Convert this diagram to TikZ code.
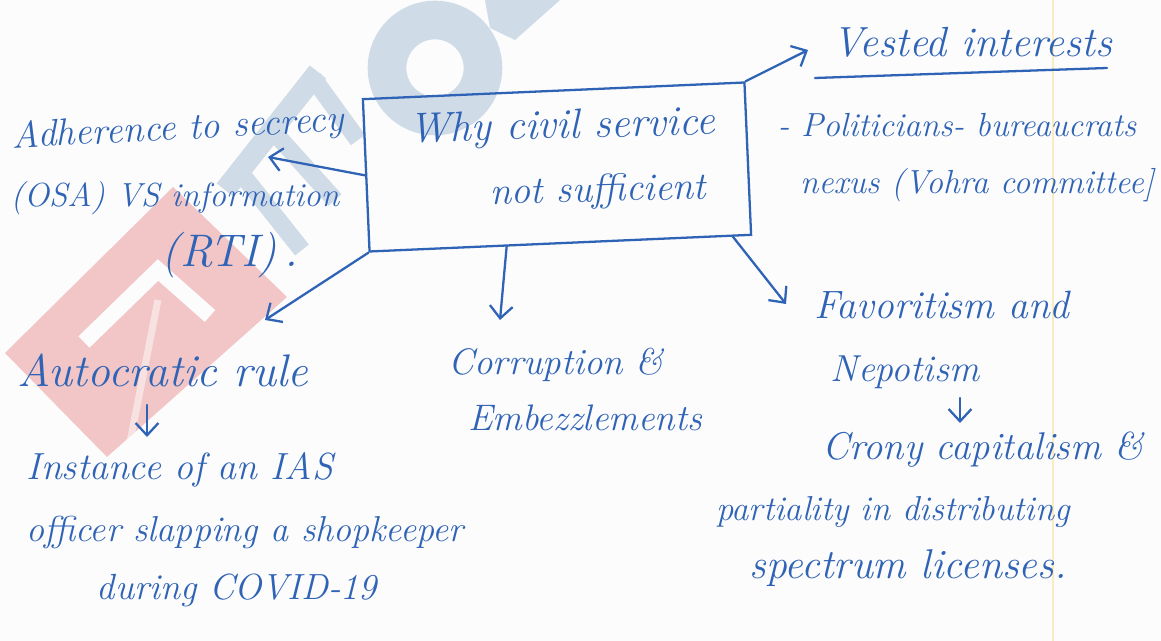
\documentclass[tikz,border=0pt]{standalone}
\usetikzlibrary{arrows.meta,calc}
\definecolor{ink}{HTML}{2F63B6}
\definecolor{paper}{HTML}{FCFCFC}
\definecolor{wmred}{HTML}{F2C6C6}
\definecolor{wmblue}{HTML}{D0DBE8}
\definecolor{marginline}{HTML}{FAEBC0}
\begin{document}
\begin{tikzpicture}[x=0.02cm,y=-0.02cm,
  hand/.style={text=ink, font=\fontsize{#1}{#1}\selectfont\itshape, inner sep=0pt, anchor=center},
  hand/.default=21,
  link/.style={draw=ink, line width=1.3pt, line cap=round, line join=round,
    -{Straight Barb[length=7pt,width=13pt,line width=1.3pt]}},
  pen/.style={draw=ink, line width=1.3pt, line cap=round, line join=round},
]
\useasboundingbox (0,0) rectangle (1161,641);
\fill[paper] (0,0) rectangle (1161,641);

% faint logo printed behind the notes
\fill[wmred] (173,187) -- (287,297) -- (107,457) -- (5,353) -- cycle;
\draw[paper, line width=9pt, line join=miter] (84,342) -- (158,270) -- (210,316);
\draw[paper, opacity=0.5, line width=4pt] (158,300) -- (128,452);
\draw[wmblue, line width=12pt, line cap=butt] (318,72) -- (225,190);
\draw[wmblue, line width=10pt, line cap=butt] (313,78) -- (358,140);
\draw[wmblue, line width=10pt, line cap=butt] (272,130) -- (335,200);
\draw[wmblue, line width=10pt, line cap=butt] (240,172) -- (302,250);
\draw[wmblue, line width=22pt] (435,68) circle[radius=48];
\fill[wmblue] (485,0) -- (560,0) -- (515,40) -- (490,28) -- cycle;

% margin of the ruled sheet
\draw[marginline, line width=1pt] (1053,0) -- (1053,641);

% central question
\node[draw=ink, line width=1.3pt, rotate=2.5, minimum width=7.64cm, minimum height=3.05cm,
  inner sep=0pt] (box) at (557,167) {};
\node[hand=24, rotate=1.5] (q1) at (562,128) {Why civil service};
\node[hand=22, rotate=1.5] (q2) at (598,192) {not sufficient};

% left: secrecy
\node[hand=21.5, rotate=3] (sec1) at (178,130) {Adherence to secrecy};
\node[hand=19] (sec2) at (175,198) {(OSA) VS information};
\node[hand=26] (sec3) at (230,255) {(RTI)\,.};
\coordinate (tipL) at (268,157);
\draw[link] (box.west) -- (tipL);

% top right: vested interests
\node[hand=24] (vest) at (972,42) {Vested interests};
\coordinate (ulA) at (815,78);
\coordinate (ulB) at (1107,68);
\draw[pen] (ulA) -- (ulB);
\node[hand=19] (pol1) at (957,125) {- Politicians- bureaucrats};
\node[hand=19] (pol2) at (977,185) {nexus (Vohra committee]};
\coordinate (tipV) at (808,50);
\draw[link] (box.north east) -- (tipV);

% bottom left: autocratic rule
\node[hand=26] (auto) at (163,370) {Autocratic rule};
\node[hand=21.5] (inst1) at (180,470) {Instance of an IAS};
\node[hand=20.5] (inst2) at (245,532) {officer slapping a shopkeeper};
\node[hand=20.7] (inst3) at (237,590) {during COVID-19};
\coordinate (tipA) at (265,320);
\draw[link] (box.south west) -- (tipA);
\coordinate (a1) at (147,405);
\coordinate (a2) at (147,437);
\draw[link] (a1) -- (a2);

% bottom middle: corruption
\node[hand=21] (corr1) at (556,365) {Corruption \&};
\node[hand=21] (corr2) at (585,418) {Embezzlements};
\coordinate (c0) at ($(box.south west)!0.36!(box.south east)$);
\coordinate (tipC) at (500,320);
\draw[link] (c0) -- (tipC);

% bottom right: favoritism
\node[hand=22.5] (fav1) at (942,305) {Favoritism and};
\node[hand=21.4] (fav2) at (905,372) {Nepotism};
\node[hand=22] (crony1) at (983,450) {Crony capitalism \&};
\node[hand=19.7] (crony2) at (893,512) {partiality in distributing};
\node[hand=23.7] (crony3) at (908,568) {spectrum licenses.};
\coordinate (f0) at ($(box.south east)+(-20,0)$);
\coordinate (tipF) at (786,304);
\draw[link] (f0) -- (tipF);
\coordinate (n1) at (960,398);
\coordinate (n2) at (960,423);
\draw[link] (n1) -- (n2);
\end{tikzpicture}
\end{document}
